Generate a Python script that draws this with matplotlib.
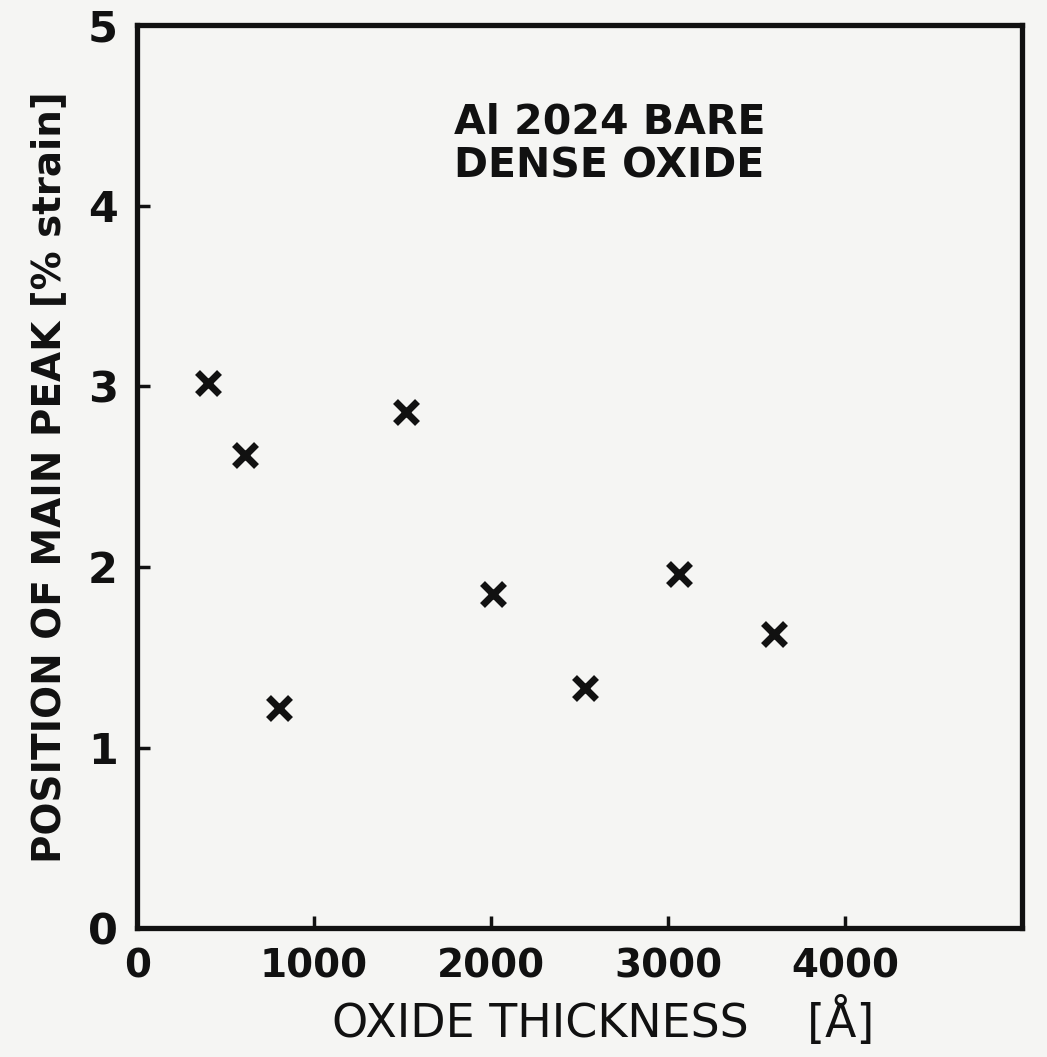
# Al 2024 bare, dense oxide: main peak position vs oxide thickness

import matplotlib
matplotlib.use('Agg')
import matplotlib.pyplot as plt

thickness = [400, 610, 800, 1520, 2010, 2530, 3060, 3600]
peak_pos = [3.02, 2.62, 1.22, 2.86, 1.85, 1.33, 1.96, 1.63]

x_ticks = [0, 1000, 2000, 3000, 4000]
y_ticks = [0, 1, 2, 3, 4, 5]

bg = '#f5f5f3'
ink = '#111111'

plt.rcParams['font.family'] = ['DejaVu Sans']

fig = plt.figure(figsize=(10.47, 10.57), dpi=100, facecolor=bg)
ax = fig.add_axes([0.131, 0.122, 0.845, 0.854], facecolor=bg)

ax.plot(thickness, peak_pos, linestyle='none', marker='x', markersize=16,
        markeredgewidth=5, color=ink)

ax.set_xlim(0, 5000)
ax.set_ylim(0, 5)
ax.set_xticks(x_ticks)
ax.set_yticks(y_ticks)
ax.set_xticklabels([str(t) for t in x_ticks], fontweight='semibold', fontsize=28)
ax.set_yticklabels([str(t) for t in y_ticks], fontweight='bold', fontsize=31)

for sp in ax.spines.values():
    sp.set_linewidth(3.8)
    sp.set_color(ink)

ax.tick_params(direction='in', length=9, width=2.5, colors=ink)
ax.tick_params(axis='x', pad=14)
ax.tick_params(axis='y', pad=14)

ax.set_xlabel('OXIDE THICKNESS    [Å]', fontsize=33, color=ink, labelpad=8)
ax.xaxis.label.set_x(0.527)
ax.set_ylabel('POSITION OF MAIN PEAK [% strain]', fontsize=28, fontweight='bold',
              color=ink, labelpad=14)

ax.text(2670, 4.34, 'Al 2024 BARE\nDENSE OXIDE', fontsize=29.5, fontweight='bold',
        color=ink, ha='center', va='center', linespacing=1.1)

fig.savefig('out.png', dpi=100, facecolor=bg)
